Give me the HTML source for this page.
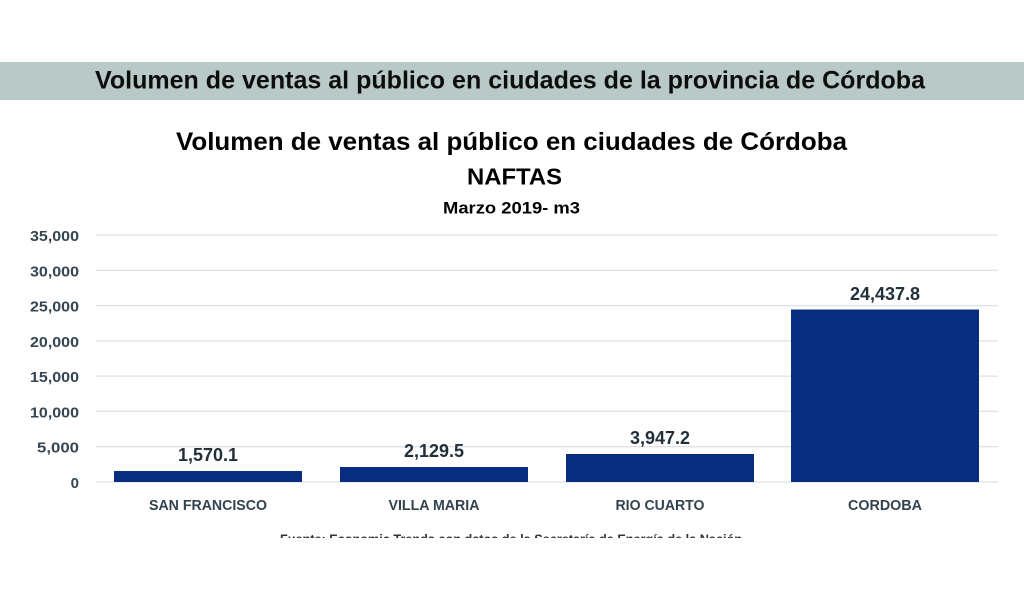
<!DOCTYPE html>
<html>
<head>
<meta charset="utf-8">
<style>
html,body{margin:0;padding:0;background:#fff;}
svg{display:block;}
text{font-family:"Liberation Sans",Arial,sans-serif;font-weight:bold;}
</style>
</head>
<body>
<svg width="1024" height="600" viewBox="0 0 1024 600" xmlns="http://www.w3.org/2000/svg">
<rect x="0" y="0" width="1024" height="600" fill="#ffffff"/>
<!-- banner -->
<rect x="0" y="62" width="1024" height="38" fill="#b9c9c7"/>
<text x="510" y="88.5" font-size="25" fill="#0d0d0d" text-anchor="middle" textLength="830" lengthAdjust="spacingAndGlyphs">Volumen de ventas al público en ciudades de la provincia de Córdoba</text>

<!-- titles -->
<text x="511.5" y="150" font-size="25" fill="#000" text-anchor="middle" textLength="671" lengthAdjust="spacingAndGlyphs">Volumen de ventas al público en ciudades de Córdoba</text>
<text x="514.5" y="184.5" font-size="23" fill="#000" text-anchor="middle" textLength="95" lengthAdjust="spacingAndGlyphs">NAFTAS</text>
<text x="511.5" y="213.5" font-size="16.5" fill="#000" text-anchor="middle" textLength="137" lengthAdjust="spacingAndGlyphs">Marzo 2019- m3</text>

<!-- gridlines -->
<g stroke="#dde2e5" stroke-width="1.3">
<line x1="96" y1="235" x2="998" y2="235"/>
<line x1="96" y1="270.3" x2="998" y2="270.3"/>
<line x1="96" y1="305.6" x2="998" y2="305.6"/>
<line x1="96" y1="340.9" x2="998" y2="340.9"/>
<line x1="96" y1="376.1" x2="998" y2="376.1"/>
<line x1="96" y1="411.4" x2="998" y2="411.4"/>
<line x1="96" y1="446.7" x2="998" y2="446.7"/>
<line x1="96" y1="482" x2="998" y2="482"/>
</g>

<!-- y labels -->
<g font-size="15" fill="#354652" text-anchor="end">
<text x="79" y="241" textLength="49" lengthAdjust="spacingAndGlyphs">35,000</text>
<text x="79" y="276.3" textLength="49" lengthAdjust="spacingAndGlyphs">30,000</text>
<text x="79" y="311.6" textLength="49" lengthAdjust="spacingAndGlyphs">25,000</text>
<text x="79" y="346.9" textLength="49" lengthAdjust="spacingAndGlyphs">20,000</text>
<text x="79" y="382.1" textLength="49" lengthAdjust="spacingAndGlyphs">15,000</text>
<text x="79" y="417.4" textLength="49" lengthAdjust="spacingAndGlyphs">10,000</text>
<text x="79" y="452.7" textLength="42" lengthAdjust="spacingAndGlyphs">5,000</text>
<text x="79" y="488">0</text>
</g>

<!-- bars -->
<g fill="#082d80">
<rect x="114" y="471" width="188" height="11"/>
<rect x="340" y="467" width="188" height="15"/>
<rect x="566" y="454" width="188" height="28"/>
<rect x="791" y="309.5" width="188" height="172.5"/>
</g>

<!-- value labels -->
<g font-size="18" fill="#22303a" text-anchor="middle">
<text x="208" y="461" textLength="60" lengthAdjust="spacingAndGlyphs">1,570.1</text>
<text x="434" y="457" textLength="60" lengthAdjust="spacingAndGlyphs">2,129.5</text>
<text x="660" y="444" textLength="60" lengthAdjust="spacingAndGlyphs">3,947.2</text>
<text x="885" y="300" textLength="70" lengthAdjust="spacingAndGlyphs">24,437.8</text>
</g>

<!-- category labels -->
<g font-size="14.5" fill="#33434e" text-anchor="middle">
<text x="208" y="510" textLength="118" lengthAdjust="spacingAndGlyphs">SAN FRANCISCO</text>
<text x="434" y="510" textLength="91" lengthAdjust="spacingAndGlyphs">VILLA MARIA</text>
<text x="660" y="510" textLength="89" lengthAdjust="spacingAndGlyphs">RIO CUARTO</text>
<text x="885" y="510" textLength="74" lengthAdjust="spacingAndGlyphs">CORDOBA</text>
</g>

<!-- footer (clipped) -->
<defs>
<clipPath id="fc"><rect x="0" y="530" width="1024" height="8"/></clipPath>
</defs>
<g clip-path="url(#fc)">
<text x="511" y="543.5" font-size="13" fill="#333" text-anchor="middle" textLength="462" lengthAdjust="spacingAndGlyphs">Fuente: Economic Trends con datos de la Secretaría de Energía de la Nación</text>
</g>
</svg>
</body>
</html>
